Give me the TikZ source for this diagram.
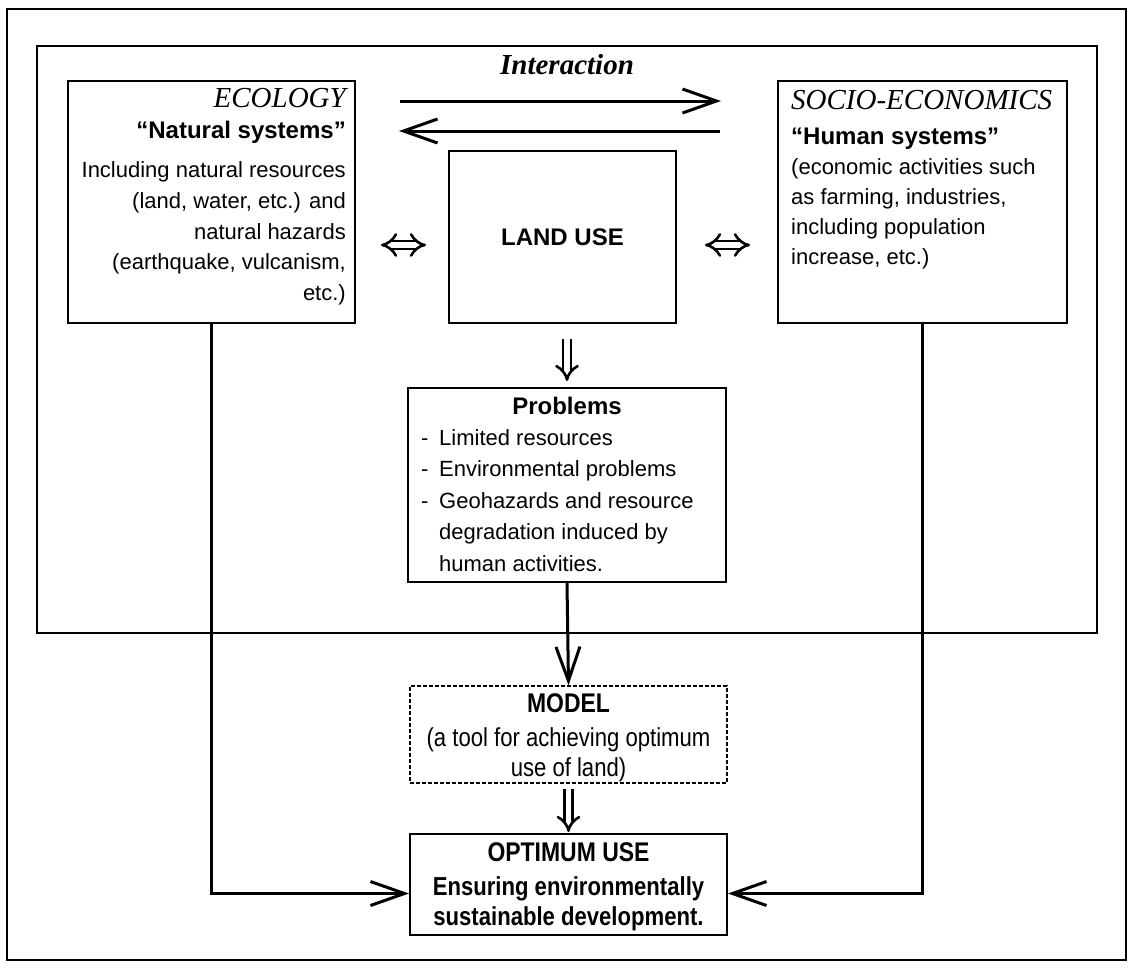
\documentclass[tikz,border=0pt]{standalone}
\usepackage{fontspec}
\setmainfont{Liberation Sans}
\newfontfamily\timesfont{Liberation Serif}
\newfontfamily\narrowfont[FakeStretch=0.85]{Liberation Sans}
\usetikzlibrary{arrows.meta,calc,positioning}

\tikzset{
  box/.style={draw, line width=2pt, inner sep=0pt},
  conn/.style={line width=3pt, -{Straight Barb[length=34pt,width=24pt]}},
  dblarrow/.style={double, double distance=5.4pt, line width=2.6pt},
  boxtext/.style={inner sep=0pt, font=\fontsize{22}{30.7}\selectfont},
}

\begin{document}
\begin{tikzpicture}[x=1pt, y=-1pt]
  \useasboundingbox (0,0) rectangle (1130,967);

  % Frames
  \draw[line width=2pt] (7,9) rectangle (1126,960);
  \draw[line width=2pt] (37,46) rectangle (1097,633);
  \node[font=\timesfont\bfseries\itshape\fontsize{29}{33}\selectfont] (inter) at (567,65) {Interaction};

  % Boxes
  \node[box, minimum width=287pt, minimum height=242pt] (eco) at (211.5,202) {};
  \node[box, minimum width=227pt, minimum height=172pt] (land) at (562.5,237) {};
  \node[box, minimum width=289pt, minimum height=242pt] (soc) at (922.5,202) {};
  \node[box, minimum width=318pt, minimum height=194pt] (prob) at (567,485) {};
  \node[box, line width=1.5pt, dash pattern=on 4pt off 2pt, minimum width=317pt, minimum height=97pt] (model) at (568.5,734.5) {};
  \node[box, minimum width=317pt, minimum height=101pt] (opt) at (568.5,884.5) {};

  % Texts
  \node[boxtext, anchor=north east, align=right] (ecotxt) at ($(eco.north east)+(-10,8)$)
    {{\timesfont\itshape\fontsize{29}{33}\selectfont ECOLOGY}\\
     {\bfseries\fontsize{24}{30}\selectfont “Natural systems”}\\[9pt]
     Including natural resources\\ (land, water, etc.) and\\ natural hazards\\
     (earthquake, vulcanism,\\ etc.)};
  \node[boxtext, anchor=north west, align=left, font=\fontsize{22}{30}\selectfont] (soctxt) at ($(soc.north west)+(14,10)$)
    {{\timesfont\itshape\fontsize{29}{33}\selectfont SOCIO-ECONOMICS}\\[5pt]
     {\bfseries\fontsize{24}{30}\selectfont “Human systems”}\\
     (economic activities such\\ as farming, industries,\\ including population\\
     increase, etc.)};
  \node[font=\bfseries\fontsize{24}{28}\selectfont] (landtxt) at (land.center) {LAND USE};
  \node[font=\bfseries\fontsize{24}{28}\selectfont] (probtitle) at ($(prob.north)+(0,19)$) {Problems};
  \node[boxtext, anchor=north west, align=left, font=\fontsize{22}{31.5}\selectfont] (probtxt) at ($(prob.north west)+(14,42)$)
    {\makebox[18pt][l]{-}Limited resources\\
     \makebox[18pt][l]{-}Environmental problems\\
     \makebox[18pt][l]{-}Geohazards and resource\\
     \hspace*{18pt}degradation induced by\\
     \hspace*{18pt}human activities.};
  \node[inner sep=0pt, align=center, font=\narrowfont\fontsize{26}{30}\selectfont] (modeltxt) at ($(model.center)+(0,3)$)
    {{\bfseries\fontsize{27}{30}\selectfont MODEL}\\[4pt]
     (a tool for achieving optimum\\ use of land)};
  \node[inner sep=0pt, align=center, font=\narrowfont\bfseries\fontsize{26}{30}\selectfont] (opttxt) at ($(opt.center)+(0,2)$)
    {{\fontsize{27}{30}\selectfont OPTIMUM USE}\\[4pt]
     Ensuring environmentally\\ sustainable development.};

  % Interaction arrows
  \draw[conn] ($(eco.north east)+(44,21)$) -- ($(soc.north west)+(-56,21)$);
  \draw[conn] ($(soc.north west)+(-57,51)$) -- ($(eco.north east)+(43,51)$);

  % Double arrows
  \draw[dblarrow, {Implies}-{Implies}] ($(eco.east |- land.west)+(25,8)$) -- ($(land.west)+(-22,8)$);
  \draw[dblarrow, {Implies}-{Implies}] ($(land.east)+(28,8)$) -- ($(soc.west |- land.east)+(-27,8)$);
  \draw[dblarrow, -{Implies}] ($(prob.north |- land.south)+(0,15)$) -- ($(prob.north)+(0,-6)$);
  \draw[dblarrow, -{Implies}] ($(model.south)+(0,5)$) -- ($(opt.north)+(0,-1)$);

  % Connectors
  \draw[conn] (prob.south) -- (model.north);
  \draw[conn] (eco.south) |- ($(opt.west)+(0,9)$);
  \draw[conn] (soc.south) |- ($(opt.east)+(0,9)$);
\end{tikzpicture}
\end{document}
